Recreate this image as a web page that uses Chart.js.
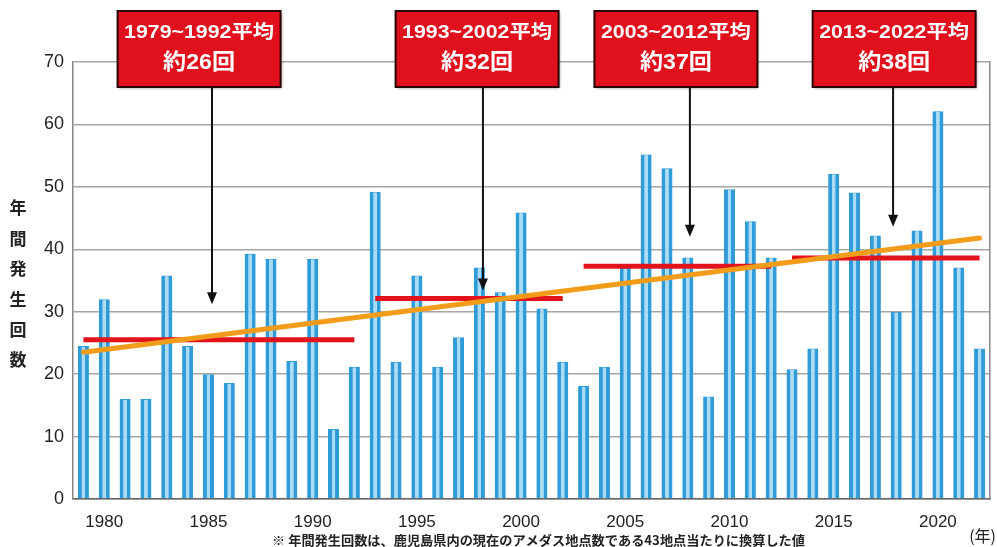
<!DOCTYPE html>
<html><head><meta charset="utf-8">
<script src="https://cdn.jsdelivr.net/npm/chart.js@4/dist/chart.umd.min.js"></script>
<style>html,body{margin:0;padding:0;background:#fff}#wrap{width:997px;height:547px;position:relative}</style>
</head><body><div id="wrap"><canvas id="c" width="997" height="547"></canvas></div>
<script>
// ---- data ----
const years = ['1979','1980','1981','1982','1983','1984','1985','1986','1987','1988','1989','1990','1991','1992','1993','1994','1995','1996','1997','1998','1999','2000','2001','2002','2003','2004','2005','2006','2007','2008','2009','2010','2011','2012','2013','2014','2015','2016','2017','2018','2019','2020','2021','2022'];
const counts = [24.5,32,16,16,35.8,24.5,20,18.6,39.3,38.5,22.1,38.5,11.2,21.2,
                49.2,22,35.8,21.2,25.9,37.1,33.1,45.9,30.5,22,
                18.1,21.2,37,55.2,53,38.7,16.4,49.6,44.5,38.7,
                20.8,24.1,52.1,49.1,42.2,30,43,62.1,37.1,24.1];
const periodStart = ['1979','1993','2003','2013'];
const periodEnd   = ['1992','2002','2012','2022'];
const periodAvg   = [25.5,32.1,37.3,38.6];
const periodLabel = ['1979~1992平均','1993~2002平均','2003~2012平均','2013~2022平均'];
const periodCount = ['約26回','約32回','約37回','約38回'];
const trendYears  = ['1979','2022'];
const trendValues = [23.5,41.8];
const yTicks = [0,10,20,30,40,50,60,70];
const yTitle = '年間発生回数';
const footnote = '※ 年間発生回数は、鹿児島県内の現在のアメダス地点数である43地点当たりに換算した値';
const xUnit = '(年)';
// annotation anchor points (category index, value)
const arrowIndex = [6.17,19.17,29.1,38.85];
const arrowTip   = [31.2,33.4,42.0,43.6];
const boxIndex   = [5.55,18.89,28.43,38.9];

const FONT = "'Liberation Sans', Arial, sans-serif";
const JFONT = "'Noto Sans CJK JP', sans-serif";
const BOXFONT = "'Liberation Sans', 'Noto Sans CJK JP', sans-serif";

const avgSets = periodAvg.map((v,i)=>({
  type:'line', label:'avg'+i,
  data:[{x:periodStart[i],y:v},{x:periodEnd[i],y:v}],
  borderColor:'#e3131b', borderWidth:5, pointRadius:0, borderCapStyle:'butt', order:2
}));

function fitText(ctx, txt, cx, cy, w){
  const m = ctx.measureText(txt).width;
  ctx.save(); ctx.textAlign='center'; ctx.translate(cx, cy); ctx.scale(w/m, 1);
  ctx.fillText(txt, 0, 0); ctx.restore();
}

const annotPlugin = {
  id:'annot',
  afterDatasetsDraw(chart){
    const ctx = chart.ctx, xs = chart.scales.x, ys = chart.scales.y;
    ctx.save();
    for(let i=0;i<periodLabel.length;i++){
      const ax = xs.getPixelForValue(arrowIndex[i]);
      const tipY = ys.getPixelForValue(arrowTip[i]);
      const bx = xs.getPixelForValue(boxIndex[i]);
      const bw = 163, top = 11, bottom = 87;
      // arrow
      ctx.strokeStyle = '#111'; ctx.lineWidth = 2;
      ctx.beginPath(); ctx.moveTo(ax, bottom); ctx.lineTo(ax, tipY-10); ctx.stroke();
      ctx.fillStyle = '#111';
      ctx.beginPath(); ctx.moveTo(ax-5, tipY-12); ctx.lineTo(ax+5, tipY-12); ctx.lineTo(ax, tipY); ctx.closePath(); ctx.fill();
      // box
      ctx.shadowColor='rgba(0,0,0,0.45)'; ctx.shadowBlur=3; ctx.shadowOffsetX=1; ctx.shadowOffsetY=1;
      ctx.fillStyle = '#e0101c';
      ctx.fillRect(bx-bw/2, top, bw, bottom-top);
      ctx.shadowColor='transparent';
      ctx.strokeStyle = '#2a0505'; ctx.lineWidth = 2;
      ctx.strokeRect(bx-bw/2, top, bw, bottom-top);
      ctx.fillStyle = '#fff'; ctx.textBaseline='middle';
      ctx.font = "bold 18px " + BOXFONT;
      fitText(ctx, periodLabel[i], bx, top+22, 150);
      ctx.font = "bold 22px " + BOXFONT;
      fitText(ctx, periodCount[i], bx, top+52, 72);
    }
    ctx.restore();
  },
  afterDraw(chart){
    const ctx = chart.ctx;
    ctx.save();
    ctx.fillStyle='#222'; ctx.textAlign='center'; ctx.textBaseline='middle';
    ctx.font = "bold 17px " + JFONT;
    const ch = [...yTitle];
    ch.forEach((c,k)=>ctx.fillText(c, 18, 208 + k*30.4));
    ctx.font = "bold 13px " + JFONT;
    fitText(ctx, footnote, 272 + 533/2, 540, 533);
    ctx.font = "16px " + JFONT; ctx.textAlign='right';
    ctx.fillText(xUnit, 996, 536);
    ctx.restore();
  }
};

new Chart(document.getElementById('c'), {
  data:{
    labels: years,
    datasets:[
      {type:'line', label:'trend', data: trendYears.map((y,i)=>({x:y,y:trendValues[i]})),
       borderColor:'#f39c1a', borderWidth:5, pointRadius:0, borderCapStyle:'round', order:1},
      ...avgSets,
      {type:'bar', label:'counts', data: counts,
       backgroundColor:'#a9dbf5', borderColor:'#2f9bd9',
       borderWidth:{left:4,right:4,top:1,bottom:0}, borderSkipped:false,
       barPercentage:0.53, categoryPercentage:1, order:3}
    ]
  },
  options:{
    responsive:false, animation:false,
    layout:{padding:{top:62,right:7,left:0,bottom:0}},
    plugins:{legend:{display:false}, tooltip:{enabled:false}},
    scales:{
      x:{type:'category', offset:true,
         grid:{display:false, drawTicks:false},
         border:{display:true,color:'#666',width:1.5},
         ticks:{autoSkip:false, maxRotation:0, padding:13, color:'#222',
                font:{family:FONT,size:17},
                callback:(v,i)=> (Number(years[i])%5===0 ? years[i] : '')},
         afterFit:s=>{s.height=48;}
      },
      y:{min:0,max:70,
         afterBuildTicks:s=>{s.ticks=yTicks.map(v=>({value:v}));},
         grid:{color:'#a6a6a6', lineWidth:1.5, drawTicks:false},
         border:{display:true,color:'#888',width:1.5},
         ticks:{padding:9,color:'#222',font:{family:FONT,size:18}},
         afterFit:s=>{s.width=73;}
      },
      y2:{position:'right', min:0,max:70, display:true,
          grid:{display:false}, ticks:{display:false},
          border:{display:true,color:'#888',width:1.5},
          afterFit:s=>{s.width=0;}}
    }
  },
  plugins:[annotPlugin]
});
</script></body></html>
